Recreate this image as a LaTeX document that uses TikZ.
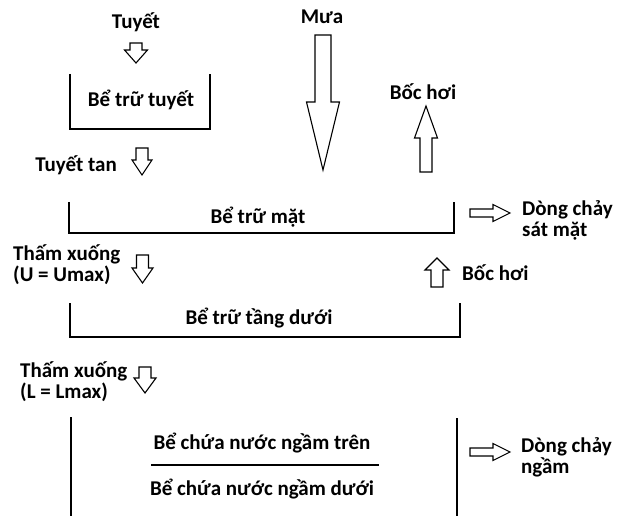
\documentclass[tikz,border=0pt]{standalone}
\usepackage{fontspec}
\setmainfont{Carlito}
\usepackage{tikz}
\usetikzlibrary{positioning}
\tikzset{lbl/.style={font=\bfseries\fontsize{21}{21}\selectfont, inner sep=0pt, align=left}}
\tikzset{tank/.style={line width=1.5pt}}
\tikzset{blk/.style={line width=1.1pt, fill=white, line join=miter}}
% hollow block arrow: tail, angle, length, shaft half width, head half width, head length
\newcommand{\blockarrow}[6]{\draw[blk, shift={(#1)}, rotate=#2] (0,-#4) -- ({#3-#6},-#4) -- ({#3-#6},-#5) -- (#3,0) -- ({#3-#6},#5) -- ({#3-#6},#4) -- (0,#4) -- cycle;}

\begin{document}
\begin{tikzpicture}[x=1pt, y=-1pt]
\useasboundingbox (0,0) rectangle (622,516);
% snow store
\node[lbl] (snow) at (136,22) {Tuyết};
\blockarrow{136,43}{-90}{20}{6}{11.5}{13}
\draw[tank] (70,74) -- (70,129) -- (210,129) -- (210,74);
\node[lbl] (snowtank) at (141,100) {Bể trữ tuyết};
\node[lbl, anchor=east] (melt) at (117,165) {Tuyết tan};
\blockarrow{142,148}{-90}{27}{6}{10}{15}
% rain and evaporation
\node[lbl] (rain) at (322,17) {Mưa};
\blockarrow{323,35}{-90}{135}{8}{16.5}{68}
\node[lbl] (evap1) at (423,92) {Bốc hơi};
\blockarrow{426,172}{90}{66}{6}{11.5}{32}
% surface store
\draw[tank] (69,202) -- (69,233) -- (454,233) -- (454,202);
\node[lbl] (surf) at (258,217) {Bể trữ mặt};
\blockarrow{470,213}{0}{40}{4}{8.5}{17}
\node[lbl, anchor=west] (surfflow) at (522,220) {Dòng chảy\\sát mặt};
\node[lbl, anchor=west] (perc1) at (13,265) {Thấm xuống\\(U = Umax)};
\blockarrow{142.5,255}{-90}{28}{6}{10.5}{15}
\blockarrow{437,287}{90}{29}{6}{12}{12}
\node[lbl, anchor=west] (evap2) at (462,273) {Bốc hơi};
% lower zone store
\draw[tank] (70,303) -- (70,337) -- (460,337) -- (460,303);
\node[lbl] (lower) at (259,318) {Bể trữ tầng dưới};
\node[lbl, anchor=west] (perc2) at (20,382) {Thấm xuống\\(L = Lmax)};
\blockarrow{145,367}{-90}{26}{6}{11}{15}
% groundwater stores
\draw[tank] (71,417) -- (71,516);
\draw[tank] (457,418) -- (457,516);
\node[lbl] (gwup) at (262,443) {Bể chứa nước ngầm trên};
\draw[tank] (151,465) -- (379,465);
\node[lbl] (gwlow) at (262,489) {Bể chứa nước ngầm dưới};
\blockarrow{470,452}{0}{40}{4}{8.5}{17}
\node[lbl, anchor=west] (gwflow) at (521,457) {Dòng chảy\\ngầm};
\end{tikzpicture}
\end{document}
